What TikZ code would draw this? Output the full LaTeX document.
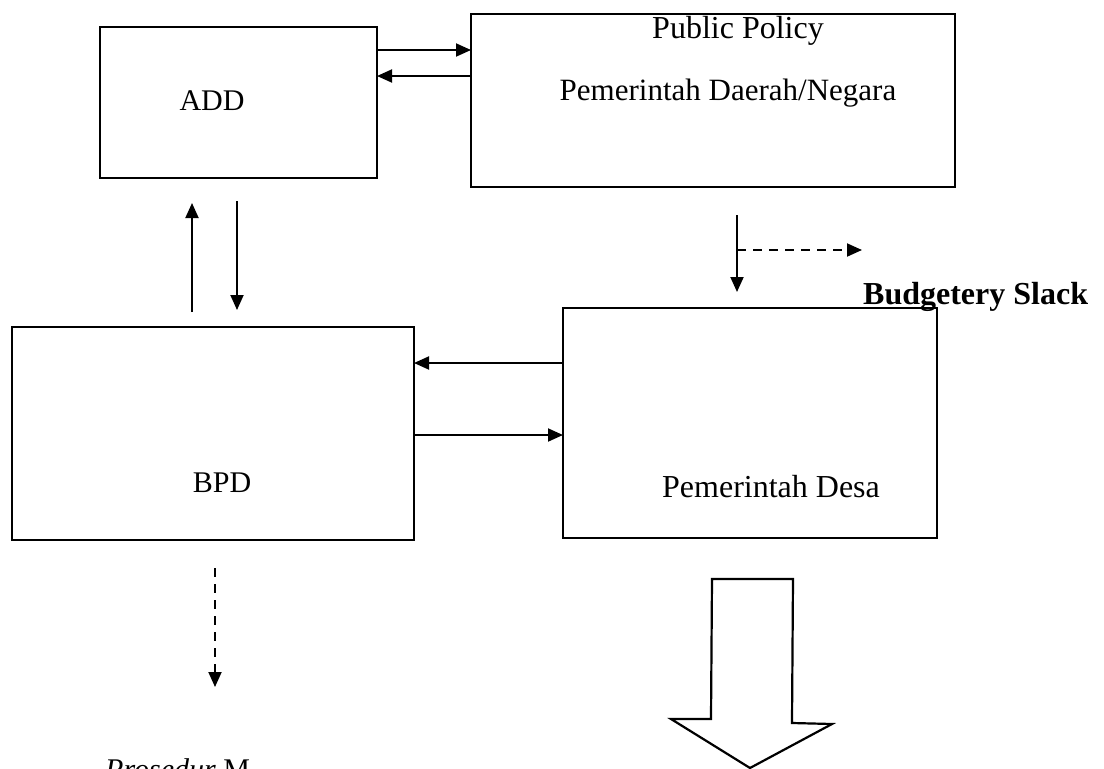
\documentclass[tikz,border=0pt]{standalone}
\usepackage{fontspec}
\setmainfont{Liberation Serif}
\usetikzlibrary{arrows.meta,calc}
\begin{document}
\begin{tikzpicture}[x=1pt,y=-1pt,
  box/.style={draw, line width=2.2pt, inner sep=0pt, outer sep=0pt},
  arr/.style={line width=1.9pt, -{Triangle[length=15pt,width=13pt]}},
  darr/.style={arr, dash pattern=on 9pt off 7pt},
  lbl/.style={font=\fontsize{30}{34}\selectfont, inner sep=0pt, anchor=base},
  blockarrow/.style={draw, line width=2.2pt, line join=miter}]
\useasboundingbox (0,0) rectangle (1104,769);
\clip (0,0) rectangle (1104,769);

% boxes
\node[box, minimum width=277pt, minimum height=151pt] (add)  at (238.5,102.5) {};
\node[box, minimum width=484pt, minimum height=173pt] (pp)   at (713,100.5) {};
\node[box, minimum width=402pt, minimum height=213pt] (bpd)  at (213,433.5) {};
\node[box, minimum width=374pt, minimum height=230pt] (desa) at (750,423) {};

% texts
\node[lbl] (addt) at (212,110) {ADD};
\node[lbl, font=\fontsize{32}{36}\selectfont] (ppt1) at (738,38) {Public Policy};
\node[lbl, font=\fontsize{31}{36}\selectfont] (ppt2) at (728,100) {Pemerintah Daerah/Negara};
\node[lbl] (bpdt) at (222,492) {BPD};
\node[lbl, font=\fontsize{32}{36}\selectfont] (desat) at (771,497) {Pemerintah Desa};
\node[lbl, anchor=base west, font=\fontsize{32}{36}\selectfont\bfseries] (slack) at (863,304) {Budgetery Slack};
\node[lbl, anchor=base west] (pros) at (105,779) {\textit{Prosedur} M};

% ADD <-> Public Policy
\draw[arr] (add.east |- 0,50) -- (pp.west |- 0,50);
\draw[arr] (pp.west |- 0,76) -- (add.east |- 0,76);

% ADD <-> BPD
\draw[arr, shorten <=15pt, shorten >=25pt] (bpd.north -| 192,0) -- (add.south -| 192,0);
\draw[arr, shorten <=23pt, shorten >=17pt] (add.south -| 237,0) -- (bpd.north -| 237,0);

% BPD <-> Pemerintah Desa
\draw[arr] (desa.west |- 0,363) -- (bpd.east |- 0,363);
\draw[arr] (bpd.east |- 0,435) -- (desa.west |- 0,435);

% Public Policy -> Pemerintah Desa, with Budgetery Slack branch
\draw[arr, shorten <=28pt, shorten >=16pt] (pp.south -| 737,0) -- (desa.north -| 737,0);
\coordinate (split) at (737,250);
\coordinate (slackend) at (862,250);
\draw[darr] (split) -- (slackend);

% BPD -> Prosedur (dashed)
\coordinate (bpdout) at (215,687);
\draw[darr, shorten <=28pt] (bpd.south -| bpdout) -- (bpdout);

% big block arrow below Pemerintah Desa
\draw[blockarrow] (712,579) -- (793,579) -- (792,723) -- (832,724) -- (750,768)
  -- (671,719) -- (711,719) -- cycle;
\end{tikzpicture}
\end{document}
